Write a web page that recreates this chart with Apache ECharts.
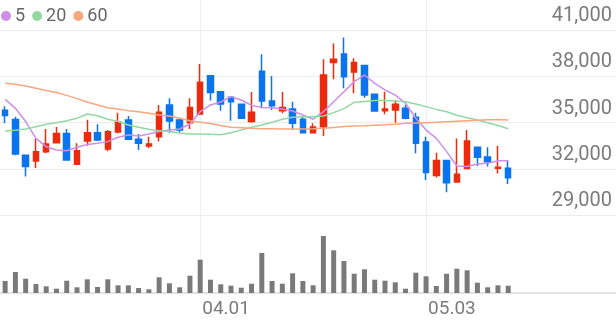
<!DOCTYPE html>
<html>
<head>
<meta charset="utf-8">
<script src="https://cdn.jsdelivr.net/npm/echarts@6/dist/echarts.min.js"></script>
<style>html,body{margin:0;padding:0;background:#fff;}#c{width:616px;height:321px;}</style>
</head>
<body>
<div id="c"></div>
<script>
const dates = ['03.05','03.06','03.07','03.08','03.11','03.12','03.13','03.14','03.15','03.18',
  '03.19','03.20','03.21','03.22','03.25','03.26','03.27','03.28','03.29','04.01',
  '04.02','04.03','04.04','04.05','04.08','04.09','04.11','04.12','04.15','04.16',
  '04.17','04.18','04.19','04.22','04.23','04.24','04.25','04.26','04.29','04.30',
  '05.02','05.03','05.07','05.08','05.09','05.10','05.13','05.14','05.16','05.17'];
const tickLabels = ['04.01','05.03'];
const priceTicks = [29000, 32000, 35000, 38000, 41000];

const opens  = [35800,35200,32870,32500,33110,33690,34280,32290,33800,34340,
  33280,34380,35160,33910,33480,34080,36140,35160,34990,35550,
  38040,37000,36630,36180,35060,38320,36400,35770,35880,35210,
  34340,34730,38900,39440,38280,38690,36830,35770,35810,35920,
  35340,33740,31570,32530,31140,32010,33390,32760,32030,32030];
const closes = [35450,32950,32140,33110,33600,34280,32570,33170,34340,33870,
  34400,35030,33910,33650,33610,35660,35100,34510,35980,37610,
  36940,36200,36350,35270,35660,36400,36090,35980,34950,34340,
  34710,38080,39100,37970,38900,36780,35750,35880,36180,35270,
  33650,31750,32530,31100,31640,33800,32740,32460,32090,31420];
const lows   = [34950,32870,31490,32050,33000,33650,32520,32240,33500,33800,
  33150,34300,33870,33220,33350,33760,34340,34340,34580,35490,
  36420,35770,35120,35230,34990,35920,35810,35600,34510,34300,
  34300,34130,37800,37220,36890,36610,35700,35530,34990,35210,
  33000,31270,31440,30470,31100,31960,32180,32140,31700,31010];
const highs  = [36050,35380,32920,33950,34580,34710,34580,33650,35180,34880,
  34510,35640,35420,34250,34080,36140,36570,35270,36570,38800,
  38060,37040,36680,36240,36980,39420,38020,36980,36350,35420,
  34950,39100,40130,40520,39160,38730,36850,37000,36460,36140,
  35640,34080,33040,32550,33970,34510,33430,33390,33500,32570];

const ma5  = [36500,35920,35060,33970,33430,33220,33170,33390,33580,33650,
  33760,34040,34190,34130,34260,34410,34510,34580,34900,35700,
  36140,36330,36680,36460,36110,35980,35960,35880,35750,35490,
  35210,35700,36350,37000,37650,38080,37540,37110,36780,36250,
  35270,34510,33970,33110,32180,32140,32310,32350,32520,32520];
const ma20 = [34450,34490,34580,34730,34880,34990,35120,35270,35550,35440,
  35210,35060,34840,34690,34560,34470,34410,34320,34260,34260,
  34230,34210,34340,34510,34690,34840,35010,35210,35340,35380,
  35380,35420,35640,35900,36310,36370,36420,36420,36400,36350,
  36200,36030,35850,35700,35470,35310,35160,34990,34800,34600];
const ma60 = [37540,37480,37370,37220,37070,36940,36760,36550,36330,36140,
  35960,35880,35770,35700,35600,35490,35420,35270,35120,35020,
  34940,34810,34690,34660,34620,34600,34590,34580,34580,34580,
  34600,34630,34680,34740,34770,34790,34820,34850,34880,34950,
  34970,34990,35010,35050,35080,35110,35140,35180,35200,35160];

const volumes = [120000,210000,143000,90000,67000,43000,123000,57000,137000,60000,
  137000,77000,77000,50000,37000,157000,97000,57000,173000,333000,
  133000,87000,73000,53000,93000,400000,120000,93000,197000,120000,
  77000,570000,427000,320000,193000,237000,133000,123000,107000,43000,
  203000,167000,70000,193000,243000,227000,103000,57000,77000,73000];

const candles = dates.map((d, i) => [opens[i], closes[i], lows[i], highs[i]]);

const chart = echarts.init(document.getElementById('c'), null, {renderer: 'canvas'});
const SLOTS_MAX = 59;
chart.setOption({
  animation: false,
  backgroundColor: '#ffffff',
  legend: {
    left: 1, top: 7, padding: 0, itemGap: 7,
    icon: 'circle', itemWidth: 10, itemHeight: 10,
    textStyle: {fontSize: 18, color: '#666666', fontFamily: 'Roboto', padding: [0,0,0,-1]},
    data: ['5', '20', '60']
  },
  grid: [
    {left: 0, right: 0, top: 30, height: 185},
    {left: 0, right: 0, top: 225, bottom: 28},
    {left: 5.133, right: 5.133, top: 0, bottom: 28}
  ],
  xAxis: [
    {type: 'category', gridIndex: 0, data: dates, max: SLOTS_MAX, boundaryGap: true,
     axisLine: {show: false}, axisTick: {show: false}, axisLabel: {show: false}, splitLine: {show: false}},
    {type: 'category', gridIndex: 1, data: dates, max: SLOTS_MAX, boundaryGap: true,
     axisLine: {show: true, lineStyle: {color: '#e3e3e3', width: 2}}, axisTick: {show: false},
     axisLabel: {show: false}, splitLine: {show: false}},
    {type: 'category', gridIndex: 2, data: dates, max: SLOTS_MAX, boundaryGap: false,
     axisLine: {show: false}, axisTick: {show: false},
     axisLabel: {show: true, interval: (i, v) => tickLabels.includes(v), align: 'left', margin: 7,
       fontSize: 19, color: '#7b7b7b', fontFamily: 'Roboto', padding: [0,0,0,2]},
     splitLine: {show: true, interval: (i, v) => tickLabels.includes(v), lineStyle: {color: '#efefef', width: 1}}}
  ],
  yAxis: [
    {type: 'value', gridIndex: 0, position: 'right', min: priceTicks[0], max: priceTicks[priceTicks.length-1], interval: 3000,
     axisLine: {show: false}, axisTick: {show: false},
     splitLine: {show: true, lineStyle: {color: '#ececec', width: 1}},
     axisLabel: {inside: true, margin: 4, fontSize: 20, color: '#7b7b7b', fontFamily: 'Roboto',
       verticalAlign: 'bottom', padding: [0,0,4,0],
       formatter: v => v.toLocaleString('en-US')}},
    {type: 'value', gridIndex: 1, min: 0, max: 680000, show: false},
    {type: 'value', gridIndex: 2, min: 0, max: 1, show: false}
  ],
  series: [
    {type: 'candlestick', name: 'price', xAxisIndex: 0, yAxisIndex: 0, data: candles, barWidth: 6,
     itemStyle: {color: '#ec2a0d', color0: '#0a74ee', borderColor: '#ec2a0d', borderColor0: '#0a74ee', borderWidth: 1.5}},
    {type: 'line', name: '5', xAxisIndex: 0, yAxisIndex: 0, data: ma5, showSymbol: false, symbol: 'none',
     color: '#cf8de9', lineStyle: {color: '#cf8de9', width: 1.5}},
    {type: 'line', name: '20', xAxisIndex: 0, yAxisIndex: 0, data: ma20, showSymbol: false, symbol: 'none',
     color: '#93d8a3', lineStyle: {color: '#93d8a3', width: 1.5}},
    {type: 'line', name: '60', xAxisIndex: 0, yAxisIndex: 0, data: ma60, showSymbol: false, symbol: 'none',
     color: '#f9a57e', lineStyle: {color: '#f9a57e', width: 1.5}},
    {type: 'bar', name: 'vol', xAxisIndex: 1, yAxisIndex: 1, data: volumes, barWidth: 5,
     itemStyle: {color: '#7a7a7a'}}
  ]
});
</script>
</body>
</html>
